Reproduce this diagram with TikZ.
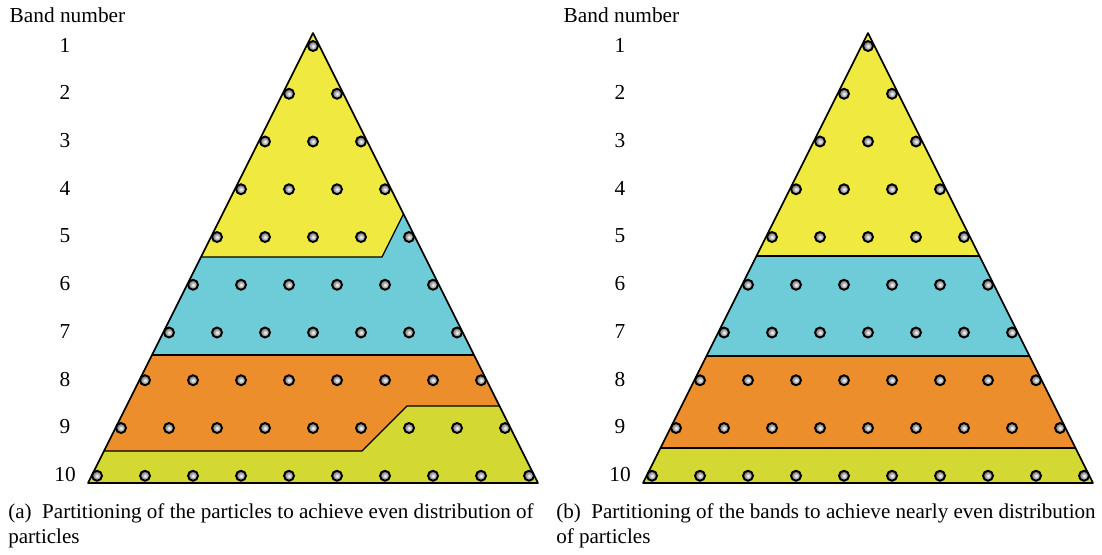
\documentclass[tikz,border=0pt]{standalone}
\usepackage{fontspec}
\setmainfont{Liberation Serif}
\usepackage{tikz}
\usetikzlibrary{positioning, calc, shadings}

\definecolor{bandyellow}{RGB}{240,234,64}
\definecolor{bandcyan}{RGB}{110,204,216}
\definecolor{bandorange}{RGB}{236,142,44}
\definecolor{bandgreen}{RGB}{211,217,50}

\tikzset{
    particle/.style={circle, draw=black, line width=1.4pt, inner sep=0pt, minimum size=7.5pt,
        inner color=white, outer color=gray!70!black},
    bandlabel/.style={font=\fontsize{16}{19}\selectfont, anchor=center},
    caption/.style={font=\fontsize{15.8}{19}\selectfont, anchor=north west, align=left, inner sep=0pt},
    edge/.style={line width=1.2pt, line join=round},
    border/.style={line width=0.9pt}
}

\newcommand{\pyramid}{(313,33) -- (538,483) -- (88,483) -- cycle}

\begin{document}
\begin{tikzpicture}[x=0.75pt, y=-0.75pt]
    \useasboundingbox (0,0) rectangle (1102,554);

    % (a) 粒子划分
    \begin{scope}
        \begin{scope}
            \clip \pyramid;
            \fill[bandgreen] (0,400) rectangle (600,500);
            \fill[bandorange] (0,340) -- (600,340) -- (600,406) -- (407,406) -- (362,451) -- (0,451) -- cycle;
            \fill[bandcyan] (0,200) -- (600,200) -- (600,355) -- (0,355) -- cycle;
            \fill[bandyellow] (0,0) -- (600,0) -- (600,214) -- (403.5,214) -- (382,257) -- (0,257) -- cycle;
            \draw[border] (0,257) -- (382,257) -- (403.5,214) -- (600,214);
            \draw[border] (0,355) -- (600,355);
            \draw[border] (0,451) -- (362,451) -- (407,406) -- (600,406);
        \end{scope}
        \draw[edge] \pyramid;
        \foreach \k in {1,...,10} {
            \foreach \j in {1,...,\k} {
                \pgfmathsetmacro{\px}{313 + (\j - (\k+1)/2)*48}
                \pgfmathsetmacro{\py}{46 + (\k-1)*47.75}
                \node[particle] (a-\k-\j) at (\px,\py) {};
            }
            \node[bandlabel] (anum-\k) at (65, {45 + (\k-1)*47.75}) {\k};
        }
        \node[bandlabel, anchor=west] (atitle) at (5,15) {Band number};
        \node[caption] (acap) at (8,503) {(a)\ \ Partitioning of the particles to achieve even distribution of\\particles};
    \end{scope}

    % (b) 分带划分
    \begin{scope}[xshift=416.25pt]
        \begin{scope}
            \clip \pyramid;
            \fill[bandgreen] (0,440) rectangle (600,500);
            \fill[bandorange] (0,350) rectangle (600,448);
            \fill[bandcyan] (0,250) rectangle (600,356);
            \fill[bandyellow] (0,0) rectangle (600,256);
            \draw[border] (0,256) -- (600,256);
            \draw[border] (0,356) -- (600,356);
            \draw[border] (0,448) -- (600,448);
        \end{scope}
        \draw[edge] \pyramid;
        \foreach \k in {1,...,10} {
            \foreach \j in {1,...,\k} {
                \pgfmathsetmacro{\px}{313 + (\j - (\k+1)/2)*48}
                \pgfmathsetmacro{\py}{46 + (\k-1)*47.75}
                \node[particle] (b-\k-\j) at (\px,\py) {};
            }
            \node[bandlabel] (bnum-\k) at (65, {45 + (\k-1)*47.75}) {\k};
        }
        \node[bandlabel, anchor=west] (btitle) at (4,15) {Band number};
        \node[caption] (bcap) at (1,503) {(b)\ \ Partitioning of the bands to achieve nearly even distribution\\of particles};
    \end{scope}
\end{tikzpicture}
\end{document}
